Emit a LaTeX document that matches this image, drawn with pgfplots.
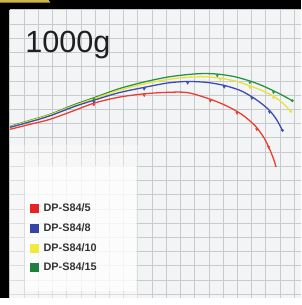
\documentclass[border=0pt]{standalone}
\usepackage{fontspec}
\setmainfont{Liberation Sans}
\usepackage{pgfplots}
\pgfplotsset{compat=1.18}
\definecolor{lred}{HTML}{EE3B30}
\definecolor{lblue}{HTML}{3A4CB0}
\definecolor{lyellow}{HTML}{E9E23A}
\definecolor{lgreen}{HTML}{2A9140}
\definecolor{sqred}{HTML}{E82222}
\definecolor{sqblue}{HTML}{3344A6}
\definecolor{sqyellow}{HTML}{F2EA3A}
\definecolor{sqgreen}{HTML}{1F7F3C}
\definecolor{bgc}{HTML}{F3F4F5}
\definecolor{gridc}{HTML}{C9CACC}
\definecolor{tab}{HTML}{D2B548}
\begin{document}
\begin{tikzpicture}[x=1bp,y=1bp]
\fill[black] (0,0) rectangle (305,302);
\fill[tab] (0,302) -- (49,302) -- (51,299.3) -- (0,299.3) -- cycle;
\begin{axis}[
  at={(10bp,0bp)}, anchor=south west,
  scale only axis, width=295bp, height=292bp,
  xmin=10, xmax=305, ymin=-302, ymax=-10,
  axis background/.style={fill=bgc},
  axis line style={draw=none},
  tick style={draw=none},
  xtick={10,24.4,...,305}, ytick={-298,-283.6,...,-10},
  xticklabels={}, yticklabels={},
  grid=major, major grid style={gridc, line width=0.8bp},
  clip=false,
  legend style={at={(axis cs:30.5,-205)}, anchor=north west, draw=none, fill=none,
    font=\fontsize{11bp}{13bp}\selectfont\bfseries\color{black!80},
    inner sep=0pt, row sep=8bp, column sep=3.5bp,
    nodes={inner sep=1bp, text height=8bp, text depth=2bp}},
  legend image code/.code={\fill[#1] (0bp,-4.5bp) rectangle (9bp,4.5bp);},
  legend cell align=left,
]
\fill[white, opacity=0.35] (axis cs:10,-147) rectangle (axis cs:140,-302);
\fill[white, opacity=0.7] (axis cs:25,-168) rectangle (axis cs:138,-295);
\node[anchor=base west, font=\fontsize{31bp}{33bp}\selectfont, text=black!88, inner sep=0pt] at (axis cs:25.5,-53.3) {1000g};

\addlegendimage{fill=sqred, draw=none}
\addlegendentry{DP-S84/5}
\addlegendimage{fill=sqblue, draw=none}
\addlegendentry{DP-S84/8}
\addlegendimage{fill=sqyellow, draw=none}
\addlegendentry{DP-S84/10}
\addlegendimage{fill=sqgreen, draw=none}
\addlegendentry{DP-S84/15}

% green
\addplot[lgreen, line width=1.3bp, smooth, forget plot] coordinates {
(10,-128) (30,-122) (50,-116) (75,-106) (95,-99) (120,-90) (146,-83) (170,-78) (190,-75.5) (205,-74.5) (220,-75) (237,-77.5) (253,-82) (265,-86.5) (277,-92) (287,-97) (296,-102)};
\addplot[lgreen, only marks, mark=triangle*, mark size=1.4bp, mark options={rotate=180}, forget plot] coordinates {
(95,-100.5) (220,-76.5) (253,-83.5) (277,-93.5)};
\addplot[lgreen, only marks, mark=*, mark size=1.3bp, forget plot] coordinates {(296,-102)};
% yellow
\addplot[lyellow, line width=1.3bp, smooth, forget plot] coordinates {
(10,-128.5) (30,-122.5) (50,-116.5) (75,-107) (95,-100) (120,-91.5) (146,-85) (170,-80.5) (190,-78.3) (210,-77.8) (225,-79.5) (240,-82.5) (253,-87) (265,-91.5) (277,-97.5) (287,-105) (294.5,-113)};
\addplot[lyellow, only marks, mark=triangle*, mark size=1.4bp, mark options={rotate=180}, forget plot] coordinates {
(223,-80.5) (253,-88.5) (277,-99)};
\addplot[lyellow, only marks, mark=*, mark size=1.2bp, forget plot] coordinates {(294.5,-113)};
% blue
\addplot[lblue, line width=1.3bp, smooth, forget plot] coordinates {
(10,-129) (30,-123.5) (50,-117.5) (75,-108) (95,-101.5) (120,-94) (146,-88.5) (170,-84) (190,-82.5) (210,-83.5) (227,-86.5) (243,-91.5) (255,-98) (265,-105) (273,-112) (280,-121) (286,-132)};
\addplot[lblue, only marks, mark=triangle*, mark size=1.4bp, mark options={rotate=180}, forget plot] coordinates {
(95,-103) (146,-90) (190,-84) (227,-88) (255,-99.5) (273,-113.5)};
\addplot[lblue, only marks, mark=*, mark size=1.3bp, forget plot] coordinates {(286,-132)};
% red
\addplot[lred, line width=1.3bp, smooth, forget plot] coordinates {
(10,-131) (30,-126) (50,-121) (75,-112) (95,-104.5) (120,-98.5) (146,-95) (170,-93.5) (190,-93.8) (213,-100.5) (230,-107.5) (245,-116) (258,-127) (267,-139) (273,-151) (277,-161) (279.5,-169)};
\addplot[lred, only marks, mark=triangle*, mark size=1.4bp, mark options={rotate=180}, forget plot] coordinates {
(95,-106) (146,-96.5) (213,-102) (240,-114.5) (260,-131) (272,-149)};
\end{axis}
\end{tikzpicture}
\end{document}
